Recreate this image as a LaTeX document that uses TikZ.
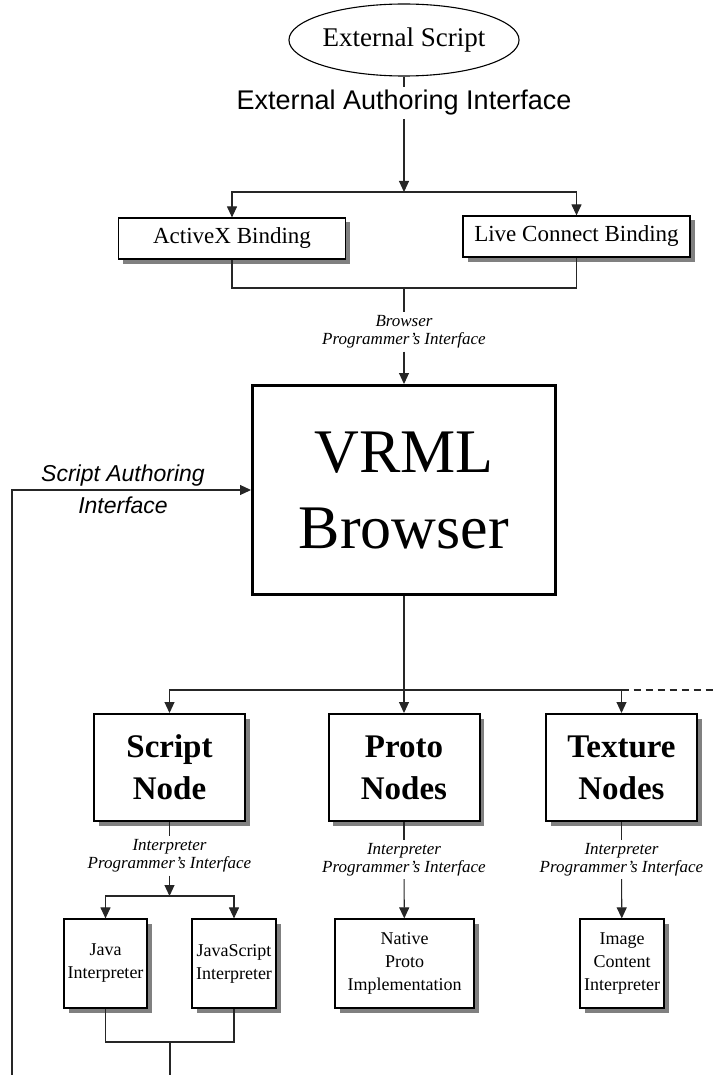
\documentclass[tikz,border=0pt]{standalone}
\usepackage{fontspec}
\setmainfont{Liberation Serif}
\setsansfont{Liberation Sans}
\usetikzlibrary{arrows.meta,shapes.geometric,shadows}

\begin{document}
\begin{tikzpicture}[x=1pt,y=-1pt,
  conn/.style={line width=1.1pt, draw=black!85},
  arr/.style={conn, -{Triangle[length=11pt,width=10pt]}},
  shadowed/.style={drop shadow={shadow xshift=4.5pt, shadow yshift=-4.5pt, fill=black!50, opacity=1}},
  ell/.style={draw, ellipse, line width=1.1pt, fill=white, inner sep=0pt,
    minimum width=225pt, minimum height=72pt, font=\fontsize{27}{32}\selectfont},
  bindbox/.style={draw, fill=white, line width=1.2pt, inner sep=0pt, shadowed,
    minimum width=227pt, minimum height=41pt, font=\fontsize{23}{28}\selectfont},
  bigbox/.style={draw, fill=white, line width=3pt, inner sep=0pt, align=center,
    minimum width=303pt, minimum height=209pt, font=\fontsize{62}{76}\selectfont},
  nodebox/.style={draw, fill=white, line width=2pt, inner sep=0pt, shadowed, align=center,
    minimum width=151pt, minimum height=107pt, font=\bfseries\fontsize{33}{42}\selectfont},
  smallbox/.style={draw, fill=white, line width=1.2pt, inner sep=0pt, shadowed, align=center,
    minimum height=89pt, font=\fontsize{18}{23}\selectfont},
  apilabel/.style={align=center, inner sep=3pt, font=\itshape\fontsize{17}{18}\selectfont},
  sanslabel/.style={align=center, inner sep=3pt, font=\sffamily\fontsize{27}{32}\selectfont},
  salabel/.style={align=center, inner sep=0pt, font=\sffamily\itshape\fontsize{23}{32}\selectfont}
]
\useasboundingbox (0,0) rectangle (714,1075);

% external access
\node[ell] (ext) at (404,40) {External Script};
\node[sanslabel] (eai) at (404,103) {External Authoring Interface};
\coordinate (s1) at (404,192);
\node[bindbox] (ax) at (232,238.5) {ActiveX Binding};
\node[bindbox] (lc) at (576.5,236.5) {Live Connect Binding};
\coordinate (j1) at (404,288);
\node[apilabel] (bpi) at (404,332) {Browser\\Programmer's Interface};

% browser
\node[bigbox] (vrml) at (404,490) {VRML\\Browser};
\node[salabel] (sai) at (123,489) {Script Authoring\\Interface};
\coordinate (sa0) at (12,1075);

% node types
\coordinate (s2) at (404,690);
\coordinate (dashend) at (714,690);
\node[nodebox] (sn) at (169.5,767.5) {Script\\Node};
\node[nodebox] (pn) at (404,767.5) {Proto\\Nodes};
\node[nodebox] (tn) at (621.5,767.5) {Texture\\Nodes};
\node[apilabel] (ip1) at (169.5,856) {Interpreter\\Programmer's Interface};
\node[apilabel] (ip2) at (404,859.5) {Interpreter\\Programmer's Interface};
\node[apilabel] (ip3) at (621.5,859.5) {Interpreter\\Programmer's Interface};

% interpreters
\coordinate (s3) at (169.5,896);
\node[smallbox, minimum width=83pt] (java) at (105.5,963.5) {Java\\Interpreter};
\node[smallbox, minimum width=84pt] (js) at (234,963.5) {JavaScript\\Interpreter};
\node[smallbox, minimum width=139pt] (npi) at (404.5,963.5) {Native\\Proto\\Implementation};
\node[smallbox, minimum width=84pt] (ici) at (622,963.5) {Image\\Content\\Interpreter};
\coordinate (j2) at (170,1042);
\coordinate (jend) at (170,1075);

% connectors
\draw[conn] (ext) -- (eai);
\draw[arr] (eai) -- (s1);
\draw[arr] (s1) -| (ax);
\draw[arr] (s1) -| (lc);
\draw[conn] (ax) |- (j1) -| (lc);
\draw[conn] (j1) -- (bpi);
\draw[arr] (bpi) -- (vrml);
\draw[arr] (sa0) |- (vrml);
\draw[arr] (vrml) -- (pn);
\draw[arr] (s2) -| (sn);
\draw[arr] (s2) -| (tn);
\draw[conn, dash pattern=on 7pt off 5pt] (tn.north |- s2) -- (dashend);
\draw[conn] (sn) -- (ip1);
\draw[arr] (ip1) -- (s3);
\draw[arr] (s3) -| (java);
\draw[arr] (s3) -| (js);
\draw[conn] (pn) -- (ip2);
\draw[arr] (ip2) -- (npi);
\draw[conn] (tn) -- (ip3);
\draw[arr] (ip3) -- (ici);
\draw[conn] (java) |- (j2) -| (js);
\draw[conn] (j2) -- (jend);
\end{tikzpicture}
\end{document}
